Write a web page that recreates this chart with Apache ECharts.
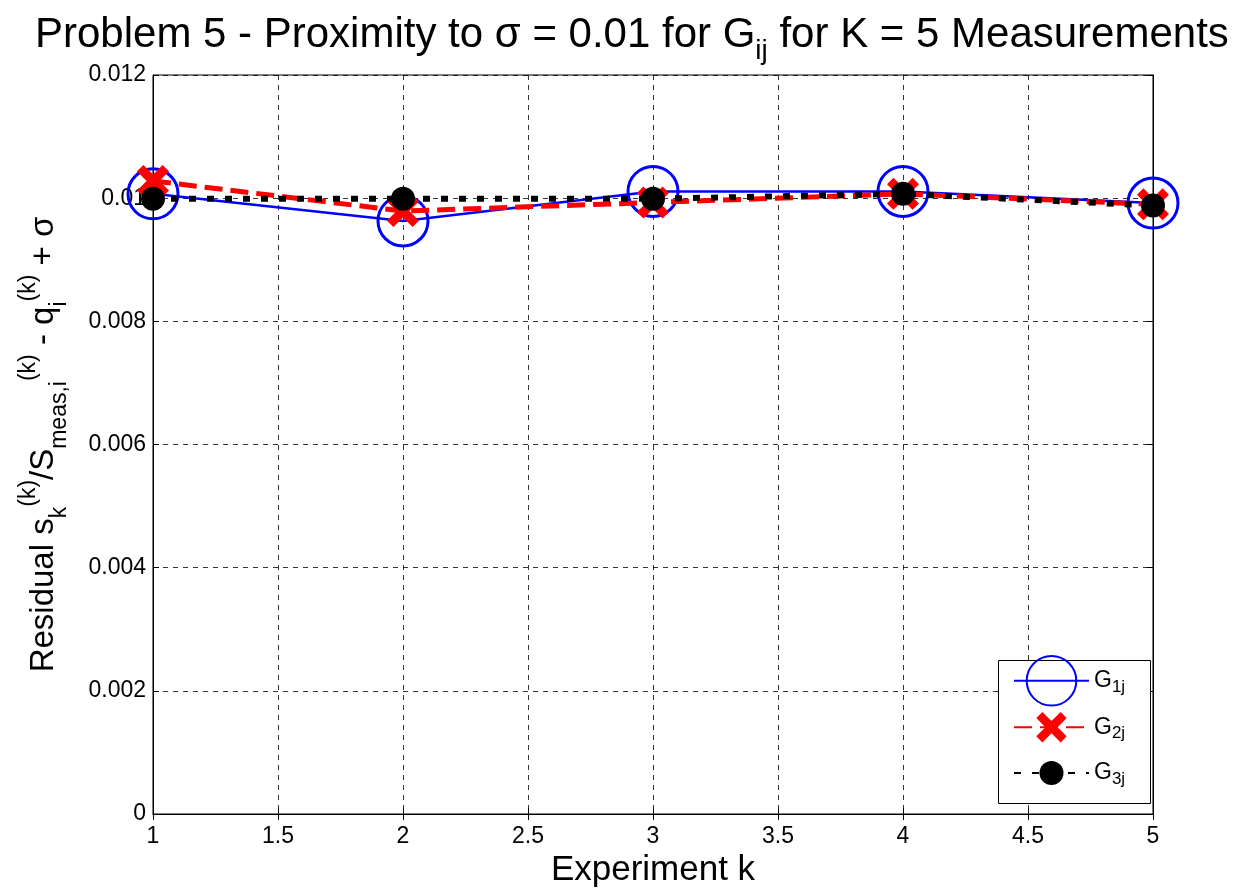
<!DOCTYPE html>
<html>
<head>
<meta charset="utf-8">
<script src="https://cdn.jsdelivr.net/npm/echarts@6/dist/echarts.min.js"></script>
<style>
html,body{margin:0;padding:0;background:#fff;}
#chart{width:1233px;height:893px;}
</style>
</head>
<body>
<div id="chart"></div>
<script>
// Data
const experiments = [1, 2, 3, 4, 5];
const seriesNames = ['G1j', 'G2j', 'G3j'];
const g1j = [0.01007, 0.00963, 0.01011, 0.01011, 0.00992];
const g2j = [0.01028, 0.00979, 0.00993, 0.01007, 0.00990];
const g3j = [0.00999, 0.00999, 0.00999, 0.01007, 0.00988];
const xTicks = { min: 1, max: 5, interval: 0.5 };
const yTicks = { min: 0, max: 0.012, interval: 0.002 };

const FONT = '"Liberation Sans", Arial, sans-serif';
const toPairs = (ys) => experiments.map((x, i) => [x, ys[i]]);
const xPath = 'path://M2,0 L5,3 L8,0 L10,2 L7,5 L10,8 L8,10 L5,7 L2,10 L0,8 L3,5 L0,2 Z';

const chart = echarts.init(document.getElementById('chart'));

const legendRich = {
  n: { fontSize: 23, fontFamily: FONT, color: '#000', verticalAlign: 'middle' },
  s: { fontSize: 17, fontFamily: FONT, color: '#000', verticalAlign: 'bottom', padding: [13, 0, 0, 0] }
};
function legendFmt(name) { return '{n|G}{s|' + name.slice(1) + '}'; }

const option = {
  animation: false,
  backgroundColor: '#fff',
  title: {
    text: 'Problem 5 - Proximity to σ = 0.01 for G{s|ij} for K = 5 Measurements',
    left: 30,
    top: 0,
    textStyle: {
      fontFamily: FONT, fontSize: 42, fontWeight: 'normal', color: '#000',
      lineHeight: 60,
      rich: {
        s: { fontFamily: FONT, fontSize: 28, verticalAlign: 'bottom', lineHeight: 28, padding: [22, 0, 0, 0] }
      }
    }
  },
  grid: { left: 153, right: 80, top: 75, bottom: 78, show: true, borderColor: '#000', borderWidth: 1, backgroundColor: '#fff' },
  graphic: [{
    type: 'rect', z: 3, left: 998, top: 660,
    shape: { width: 152, height: 143 },
    style: { fill: '#fff', stroke: '#000', lineWidth: 1 }
  }],
  legend: [
    { data: ['G1j'], orient: 'vertical', left: 1013, top: 655, padding: 0, itemWidth: 75, itemHeight: 62, itemGap: 0, z: 5,
      formatter: legendFmt, textStyle: { rich: legendRich } },
    { data: ['G2j'], orient: 'vertical', left: 1013, top: 712, padding: 0, itemWidth: 75, itemHeight: 38, itemGap: 0, z: 5,
      formatter: legendFmt, textStyle: { rich: legendRich } },
    { data: ['G3j'], orient: 'vertical', left: 1013, top: 761, padding: 0, itemWidth: 75, itemHeight: 30, itemGap: 0, z: 5,
      formatter: legendFmt, textStyle: { rich: legendRich } }
  ],
  xAxis: [{
    type: 'value', min: xTicks.min, max: xTicks.max, interval: xTicks.interval,
    name: 'Experiment k', nameLocation: 'middle', nameGap: 39,
    nameTextStyle: { fontFamily: FONT, fontSize: 35, color: '#000' },
    axisLine: { lineStyle: { color: '#000', width: 1 } },
    axisTick: { inside: true, length: 6, lineStyle: { color: '#000' } },
    axisLabel: { fontFamily: FONT, fontSize: 23, color: '#000', margin: 11 },
    splitLine: { show: true, lineStyle: { color: '#000', type: [5, 5], width: 0.8 } }
  }, {
    type: 'value', position: 'top', min: xTicks.min, max: xTicks.max, interval: xTicks.interval,
    axisLine: { lineStyle: { color: '#000' } },
    axisTick: { inside: true, length: 6, lineStyle: { color: '#000' } },
    axisLabel: { show: false }, splitLine: { show: false }
  }],
  yAxis: [{
    type: 'value', min: yTicks.min, max: yTicks.max, interval: yTicks.interval,
    name: 'Residual s{sub|k}{sup|(k)}/S{sub|meas,i}{sup|(k)} - q{sub|i}{sup|(k)} + σ',
    nameLocation: 'middle', nameRotate: 90, nameGap: 78,
    nameTextStyle: {
      fontFamily: FONT, fontSize: 33, color: '#000', lineHeight: 62,
      rich: {
        sub: { fontFamily: FONT, fontSize: 23, color: '#000', verticalAlign: 'bottom', lineHeight: 23, padding: [0, 0, 4, 0] },
        sup: { fontFamily: FONT, fontSize: 23, color: '#000', verticalAlign: 'top', lineHeight: 23, padding: [4, 0, 0, 0] }
      }
    },
    axisLine: { lineStyle: { color: '#000', width: 1 } },
    axisTick: { inside: true, length: 6, lineStyle: { color: '#000' } },
    axisLabel: { fontFamily: FONT, fontSize: 23, color: '#000', margin: 7 },
    splitLine: { show: true, lineStyle: { color: '#000', type: [5, 5], width: 0.8 } }
  }, {
    type: 'value', position: 'right', min: yTicks.min, max: yTicks.max, interval: yTicks.interval,
    axisLine: { show: true, lineStyle: { color: '#000' } },
    axisTick: { show: true, inside: true, length: 6, lineStyle: { color: '#000' } },
    axisLabel: { show: false }, splitLine: { show: false }
  }],
  series: [{
    name: seriesNames[0], type: 'line', data: toPairs(g1j), clip: false, z: 2,
    symbol: 'circle', symbolSize: 50,
    lineStyle: { color: '#0000ff', width: 2.5 },
    itemStyle: { color: 'rgba(255,255,255,0)', borderColor: '#0000ff', borderWidth: 3 }
  }, {
    name: seriesNames[1], type: 'line', data: toPairs(g2j), clip: false, z: 3,
    symbol: xPath, symbolSize: 32,
    lineStyle: { color: '#ff0000', width: 5, type: [18, 8] },
    itemStyle: { color: '#ff0000' }
  }, {
    name: seriesNames[2], type: 'line', data: toPairs(g3j), clip: false, z: 4,
    symbol: 'circle', symbolSize: 24,
    lineStyle: { color: '#000', width: 6, type: [7, 11] },
    itemStyle: { color: '#000' }
  }]
};
chart.setOption(option);
</script>
</body>
</html>
